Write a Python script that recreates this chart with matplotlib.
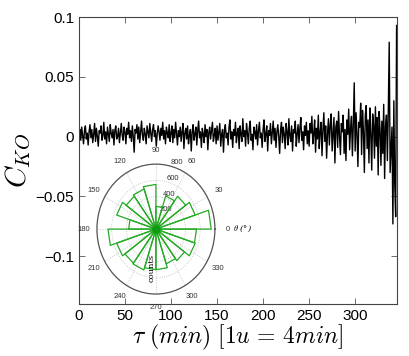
import numpy as np
import matplotlib
matplotlib.use('Agg')
import matplotlib.pyplot as plt

# serie C_KO (valori in unita' di 1e-3), tau = 0..345
c_ko_milli = [
    2, 6, -3, 8, 1, -6, 5, 9, -2, 3, -7, 4, 10, -1, 6, -5, 2, 11, -4, 7,
    0, -8, 5, 3, 9, -3, 1, 12, -2, 4, -6, 8, 2, -4, 10, 3, -1, 6, -7, 5,
    9, -2, 0, 7, -5, 3, 11, 1, -3, 8,
    4, -6, 7, 2, 12, -1, 5, -4, 9, 0, -13, 6, 3, 10, -2, 8, -5, 4, 13, 1,
    -3, 7, 2, -6, 9, 4, -1, 11, 3, -4, 6, 10, 0, 5, -8, 2, 9, 4, -3, 7,
    1, 12, -2, 5, -6, 8, 3, -1, 10, -4,
    3, 9, -5, 6, -1, 12, 2, -7, 5, 0, 8, -4, 4, 11, -10, 3, 7, -2, 9, -6,
    1, 6, -12, 4, 10, -3, 2, 8, -7, 5, 13, -1, 4, -9, 7, 2, -5, 10, 0, 6,
    -11, 3, 8, -2, 5, 12, -4, 1, 7, -6,
    9, -3, 4, 11, -8, 2, 6, -13, 5, 10, -1, 3, -7, 8, 14, -2, 4, -9, 6, 1,
    12, -5, 3, 7, -10, 9, 2, -4, 15, 0, 5, -8, 11, 3, -6, 7, 13, -3, 2, -11,
    8, 4, -2, 10, -7, 5, 12, -1, 3, -9,
    6, 14, -4, 2, 9, -12, 5, 1, 11, -6, 3, 13, -3, 7, -9, 4, 10, 0, -14, 6,
    12, -5, 8, 2, -10, 11, 4, -7, 15, 1, -4, 9, -12, 6, 3, 13, -8, 2, 10, -5,
    7, 16, -3, 4, -11, 9, 1, 12, -6, 5,
    -8, 11, 3, 17, -6, 2, 14, -13, 7, -2, 18, -10, 4, 12, -16, 6, 20, -4, 9, -18,
    3, 15, -7, 10, 19, -12, 2, 16, -22, 8, 13, -9, 21, 1, -15, 11, 4, 18, -14, 6,
    -20, 14, 2, 23, -11, 7, 17, -16, 10, 45,
    -12, 20, 3, -25, 12, 8, 28, -15, 22, 5, -30, 18, 26, -10, 14, -22, 24, 2, -28, 19,
    10, -18, 25, -8, 16, -32, 21, 6, -24, 13, -14, 27, -35, 9, 18, -20, 22, 79, -30, -12,
    8, -73, 30, -40, -67, 93,
]
c_ko = np.array(c_ko_milli) * 1e-3
tau = np.arange(len(c_ko))

# istogramma rose: 20 settori da 18 gradi, conteggi
rose_edges_deg = list(range(0, 361, 18))
rose_counts = [750, 560, 500, 430, 280, 550, 520, 500, 560, 370,
               650, 560, 520, 530, 500, 500, 450, 480, 560, 550]
theta_ticks = list(range(0, 360, 30))
theta_labels = [str(t) for t in theta_ticks]

x_ticks = [0, 50, 100, 150, 200, 250, 300]
y_ticks = [-0.1, -0.05, 0, 0.05, 0.1]
y_tick_labels = ['\u22120.1', '\u22120.05', '0', '0.05', '0.1']

plt.rcParams['font.family'] = ['Liberation Sans', 'DejaVu Sans']
plt.rcParams['mathtext.fontset'] = 'cm'

fig = plt.figure(figsize=(4.09, 3.56), dpi=100)
ax = fig.add_axes([0.193, 0.146, 0.778, 0.806])
ax.plot(tau, c_ko, color='black', lw=1.0)
ax.set_xlim(0, 345.6)
ax.set_ylim(-0.14, 0.1)
ax.set_xticks(x_ticks)
ax.set_yticks(y_ticks)
ax.set_yticklabels(y_tick_labels)
ax.tick_params(direction='in', top=True, right=True, length=4, width=0.6,
               labelsize=11, color='#555555')
for s in ax.spines.values():
    s.set_color('#444444')
    s.set_linewidth(0.8)
ax.set_xlabel(r'$\tau\ (min)\ [1u\,=\,4min]$', fontsize=17, labelpad=0)
ax.set_ylabel(r'$C_{KO}$', fontsize=21, labelpad=2)

# inset polare
pax = fig.add_axes([0.237, 0.174, 0.2885, 0.365], projection='polar')
pax.set_aspect('auto')
pax.set_ylim(0, 800)
pax.set_rticks([200, 400, 600, 800])
pax.set_rlabel_position(76)
pax.set_thetagrids(theta_ticks, labels=theta_labels)
pax.tick_params(labelsize=5.5, colors='#333333')
pax.tick_params(axis='x', pad=-1)
pax.grid(True, linestyle=':', color='#bbbbbb', lw=0.6)
pax.spines['polar'].set_color('#555555')
pax.spines['polar'].set_linewidth(0.9)

for i, cnt in enumerate(rose_counts):
    t1 = np.deg2rad(rose_edges_deg[i])
    t2 = np.deg2rad(rose_edges_deg[i + 1])
    pax.plot([0, t1, t2, 0], [0, cnt, cnt, 0], color='#22aa22', lw=0.9)
pax.plot(0, 0, 'o', color='#119911', ms=5)

pax.text(1.15, 0.5, r'$\theta$ (°)', transform=pax.transAxes, fontsize=6,
         va='center', ha='left', family='DejaVu Serif', style='italic')
pax.text(0.46, 0.2, 'counts', transform=pax.transAxes, fontsize=6,
         rotation=90, va='center', ha='center', family='DejaVu Serif')

fig.savefig('out.png', dpi=100)
